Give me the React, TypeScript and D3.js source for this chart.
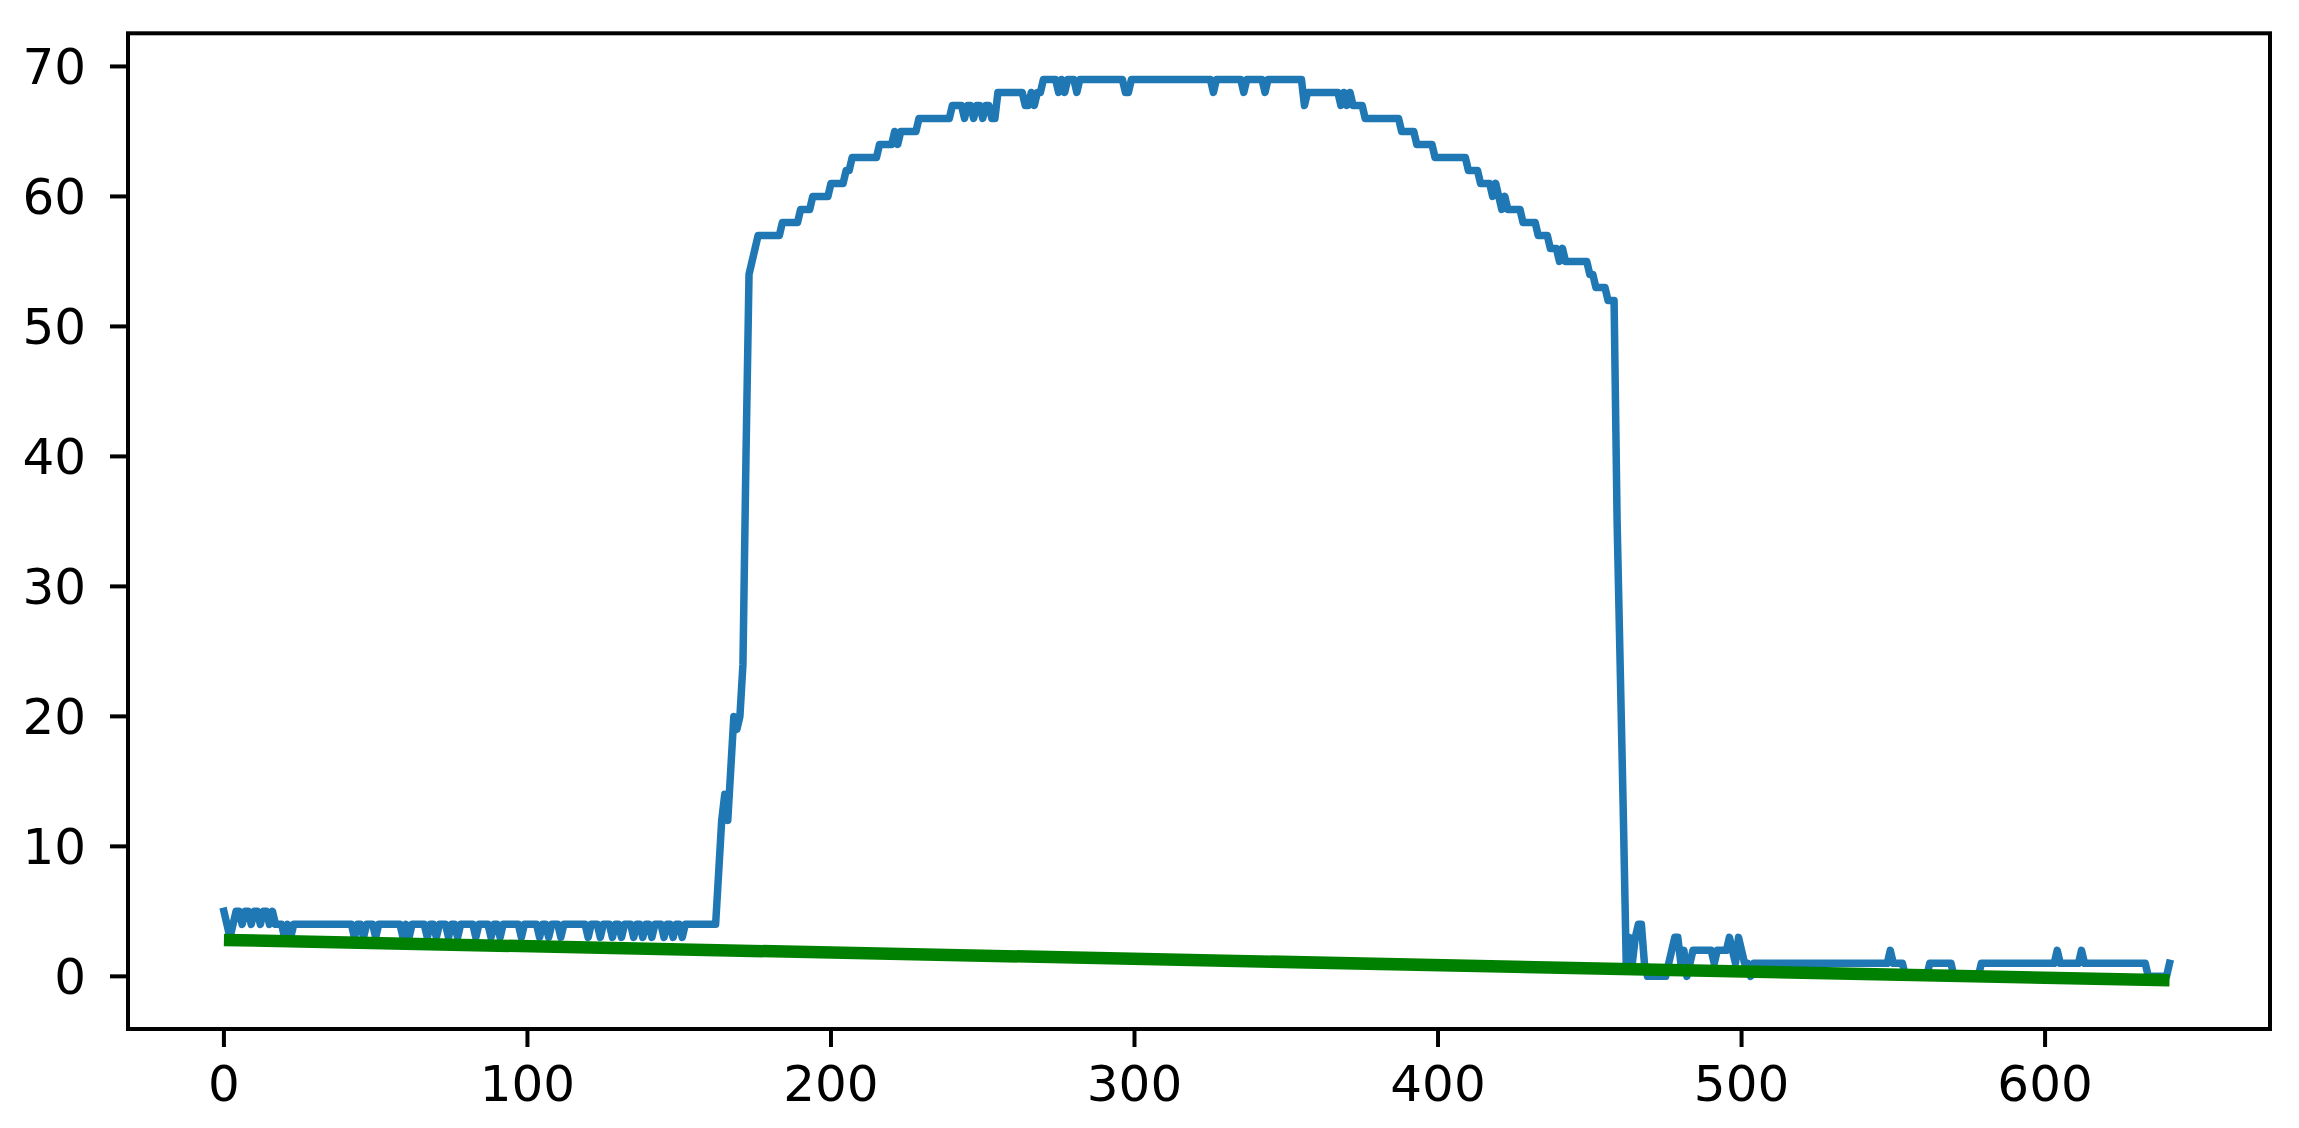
import React from "react";
import * as d3 from "d3";

// ---- data ----
// blue series: [index, value] breakpoints, value holds until the next breakpoint
const blueSteps: [number, number][] = [
  [0, 5], [1, 4], [2, 3], [3, 4], [4, 5], [6, 4], [7, 5], [9, 4], [10, 5], [12, 4], [13, 5], [15, 4], [16, 5], [17, 4],
  [20, 3], [21, 4], [22, 3], [23, 4],
  [43, 3], [44, 4], [46, 3], [47, 4], [50, 3], [51, 4],
  [59, 3], [60, 4], [61, 3], [62, 4],
  [67, 3], [68, 4], [70, 3], [71, 4], [74, 3], [75, 4], [77, 3], [78, 4],
  [83, 3], [84, 4], [88, 3], [89, 4], [91, 3], [92, 4],
  [98, 3], [99, 4], [104, 3], [105, 4], [107, 3], [108, 4], [111, 3], [112, 4],
  [120, 3], [121, 4], [124, 3], [125, 4], [128, 3], [129, 4], [131, 3], [132, 4], [135, 3], [136, 4],
  [138, 3], [139, 4], [141, 3], [142, 4], [145, 3], [146, 4], [148, 3], [149, 4], [151, 3], [152, 4],
  [163, 8], [164, 12], [165, 14], [166, 12], [167, 16], [168, 20], [169, 19], [170, 20], [171, 24], [172, 40],
  [173, 54], [174, 55], [175, 56], [176, 57], [184, 58], [190, 59], [194, 60], [200, 61], [205, 62], [207, 63],
  [216, 64], [221, 65], [222, 64], [223, 65], [229, 66], [240, 67], [244, 66], [245, 67], [247, 66], [248, 67],
  [250, 66], [251, 67], [253, 66], [255, 68], [264, 67], [266, 68], [267, 67], [268, 68], [270, 69],
  [275, 68], [276, 69], [277, 68], [278, 69], [281, 68], [282, 69], [297, 68], [299, 69],
  [326, 68], [327, 69], [336, 68], [337, 69], [343, 68], [344, 69], [356, 67], [357, 68],
  [368, 67], [369, 68], [370, 67], [371, 68], [372, 67], [376, 66], [388, 65], [393, 64], [399, 63],
  [410, 62], [414, 61], [418, 60], [419, 61], [420, 60], [421, 59], [422, 60], [423, 59], [428, 58],
  [433, 57], [437, 56], [440, 55], [441, 56], [442, 55], [450, 54], [452, 53], [456, 52],
  [459, 35], [460, 24], [461, 13], [462, 1], [463, 3], [464, 1], [465, 3], [466, 4], [468, 1], [469, 0],
  [476, 1], [477, 2], [478, 3], [480, 1], [481, 2], [482, 0], [483, 1], [484, 2], [491, 1], [492, 2],
  [496, 3], [497, 2], [498, 1], [499, 3], [500, 2], [501, 1], [503, 0], [504, 1],
  [549, 2], [550, 1], [554, 0], [562, 1], [570, 0], [579, 1], [604, 2], [605, 1], [612, 2], [613, 1],
  [634, 0], [641, 1],
];
const blueLength = 642;

// green trend line endpoints
const trendX = [0, 641];
const trendY = [2.8, -0.3];

const xTicks = [0, 100, 200, 300, 400, 500, 600];
const yTicks = [0, 10, 20, 30, 40, 50, 60, 70];
const xLimits = [-31.6, 674.1];
const yLimits = [-4.05, 72.55];

const W = 2299;
const H = 1128;
const left = 128;
const right = 2270;
const top = 33.3;
const bottom = 1029;

export default function App() {
  const x = d3.scaleLinear().domain(xLimits).range([left, right]);
  const y = d3.scaleLinear().domain(yLimits).range([bottom, top]);

  const blue: { i: number; v: number }[] = [];
  let k = 0;
  for (let i = 0; i < blueLength; i++) {
    while (k + 1 < blueSteps.length && blueSteps[k + 1][0] <= i) k++;
    blue.push({ i, v: blueSteps[k][1] });
  }
  const line = d3
    .line<{ i: number; v: number }>()
    .x((d) => x(d.i))
    .y((d) => y(d.v));
  const trend = trendX.map((t, j) => ({ i: t, v: trendY[j] }));

  const font = "'DejaVu Sans', sans-serif";
  return (
    <svg
      width={W}
      height={H}
      style={{ position: "absolute", left: 0, top: 0, background: "#fff" }}
    >
      <rect x={0} y={0} width={W} height={H} fill="#fff" />
      <path
        d={line(blue) || ""}
        fill="none"
        stroke="#1f77b4"
        strokeWidth={7.5}
        strokeLinejoin="round"
        strokeLinecap="square"
      />
      <path
        d={line(trend) || ""}
        fill="none"
        stroke="#008000"
        strokeWidth={12.5}
        strokeLinecap="butt"
      />
      <rect
        x={left}
        y={top}
        width={right - left}
        height={bottom - top}
        fill="none"
        stroke="#000"
        strokeWidth={4}
      />
      {xTicks.map((t) => (
        <g key={"x" + t}>
          <line x1={x(t)} x2={x(t)} y1={bottom} y2={bottom + 18} stroke="#000" strokeWidth={4} />
          <text
            x={x(t)}
            y={1101}
            textAnchor="middle"
            fontFamily={font}
            fontSize={50}
            fill="#000"
          >
            {t}
          </text>
        </g>
      ))}
      {yTicks.map((t) => (
        <g key={"y" + t}>
          <line x1={left - 18} x2={left} y1={y(t)} y2={y(t)} stroke="#000" strokeWidth={4} />
          <text
            x={86}
            y={y(t) + 17.5}
            textAnchor="end"
            fontFamily={font}
            fontSize={50}
            fill="#000"
          >
            {t}
          </text>
        </g>
      ))}
    </svg>
  );
}
